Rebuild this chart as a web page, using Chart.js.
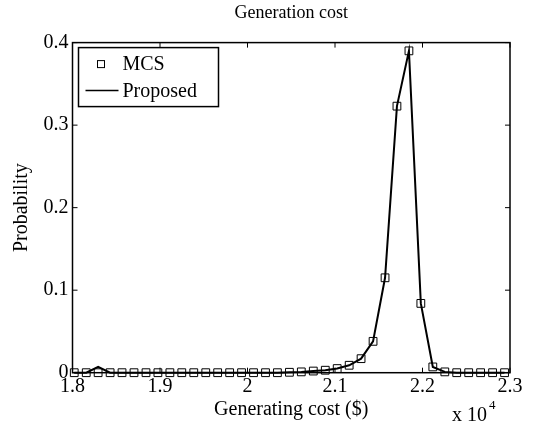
<!DOCTYPE html>
<html>
<head>
<meta charset="utf-8">
<title>Generation cost</title>
<script src="https://cdn.jsdelivr.net/npm/chart.js@4.4.1/dist/chart.umd.min.js"></script>
<style>
  html, body { margin: 0; padding: 0; background: #fff; }
  canvas { display: block; }
</style>
</head>
<body>
<canvas id="cost-chart" width="537" height="427"></canvas>
<script>
// Generating cost bins ($)
const costBins = [
  18020, 18157, 18293, 18430, 18566, 18703, 18840, 18976, 19113, 19249,
  19386, 19523, 19659, 19796, 19932, 20069, 20206, 20342, 20479, 20615,
  20752, 20889, 21025, 21162, 21298, 21435, 21572, 21708, 21845, 21981,
  22118, 22255, 22391, 22528, 22664, 22801, 22938
];

// Monte Carlo simulation probabilities
const mcsProb = [
  0, 0, 0, 0, 0, 0, 0, 0, 0, 0,
  0, 0, 0, 0, 0, 0, 0, 0, 0.0005, 0.001,
  0.002, 0.003, 0.005, 0.009, 0.017, 0.038, 0.115, 0.323, 0.39, 0.084,
  0.007, 0.001, 0, 0, 0, 0, 0
];

// Proposed method probabilities
const proposedProb = [
  0, 0, 0.007, 0, 0, 0, 0, 0, 0, 0,
  0, 0, 0, 0, 0, 0, 0, 0, 0.0005, 0.001,
  0.002, 0.003, 0.005, 0.009, 0.017, 0.038, 0.115, 0.323, 0.39, 0.084,
  0.007, 0.001, 0, 0, 0, 0, 0
];

const xTicks = [18000, 19000, 20000, 21000, 22000, 23000];
const yTicks = [0, 0.1, 0.2, 0.3, 0.4];
const seriesNames = ['MCS', 'Proposed'];

const serif = '"Liberation Serif", "Times New Roman", serif';
Chart.defaults.font.family = serif;
Chart.defaults.color = '#000';

const toPoints = (ys) => costBins.map((x, i) => ({ x: x, y: ys[i] }));

// center the title over the plot area rather than the whole canvas
const titleOverAxes = {
  id: 'titleOverAxes',
  afterLayout(chart) {
    const t = chart.titleBlock;
    if (t) {
      t.left = chart.chartArea.left;
      t.right = chart.chartArea.right;
    }
  }
};

// box around the axes with inward ticks on all four sides
const axesBox = {
  id: 'axesBox',
  afterDraw(chart) {
    const { ctx, chartArea: a, scales } = chart;
    const len = 5;
    ctx.save();
    ctx.strokeStyle = '#000';
    ctx.lineWidth = 1.5;
    ctx.strokeRect(a.left, a.top, a.right - a.left, a.bottom - a.top);
    ctx.lineWidth = 1;
    ctx.beginPath();
    xTicks.forEach(v => {
      const px = scales.x.getPixelForValue(v);
      ctx.moveTo(px, a.bottom); ctx.lineTo(px, a.bottom - len);
      ctx.moveTo(px, a.top); ctx.lineTo(px, a.top + len);
    });
    yTicks.forEach(v => {
      const py = scales.y.getPixelForValue(v);
      ctx.moveTo(a.left, py); ctx.lineTo(a.left + len, py);
      ctx.moveTo(a.right, py); ctx.lineTo(a.right - len, py);
    });
    ctx.stroke();

    // exponent note under the x axis
    ctx.fillStyle = '#000';
    ctx.textBaseline = 'alphabetic';
    ctx.textAlign = 'left';
    ctx.font = '20px ' + serif;
    ctx.fillText('x 10', 452, 421);
    ctx.font = '13px ' + serif;
    ctx.fillText('4', 489, 409);
    ctx.restore();
  }
};

// legend box in the upper left corner
const legendBox = {
  id: 'legendBox',
  afterDraw(chart) {
    const { ctx, chartArea: a } = chart;
    const x0 = a.left + 6, y0 = a.top + 5, w = 140, h = 59;
    ctx.save();
    ctx.fillStyle = '#fff';
    ctx.fillRect(x0, y0, w, h);
    ctx.strokeStyle = '#000';
    ctx.lineWidth = 1.5;
    ctx.strokeRect(x0, y0, w, h);

    ctx.lineWidth = 1;
    ctx.strokeRect(x0 + 19, y0 + 13, 7, 7);
    ctx.lineWidth = 1.5;
    ctx.beginPath();
    ctx.moveTo(x0 + 7, y0 + 43);
    ctx.lineTo(x0 + 40, y0 + 43);
    ctx.stroke();

    ctx.fillStyle = '#000';
    ctx.font = '20px ' + serif;
    ctx.textBaseline = 'middle';
    ctx.fillText(seriesNames[0], x0 + 44, y0 + 17);
    ctx.fillText(seriesNames[1], x0 + 44, y0 + 44);
    ctx.restore();
  }
};

new Chart(document.getElementById('cost-chart'), {
  type: 'scatter',
  data: {
    datasets: [
      {
        label: seriesNames[0],
        data: toPoints(mcsProb),
        showLine: false,
        pointStyle: 'rect',
        pointRadius: 5.5,
        pointBorderWidth: 1,
        pointBorderColor: '#000',
        pointBackgroundColor: 'rgba(0,0,0,0)',
        clip: false
      },
      {
        label: seriesNames[1],
        data: toPoints(proposedProb),
        showLine: true,
        borderColor: '#000',
        borderWidth: 2,
        pointRadius: 0,
        tension: 0,
        clip: false
      }
    ]
  },
  options: {
    responsive: false,
    animation: false,
    layout: { padding: { left: 0, right: 27, top: 0, bottom: 0 } },
    plugins: {
      legend: { display: false },
      tooltip: { enabled: false },
      title: {
        display: true,
        text: 'Generation cost',
        font: { size: 18, weight: 'normal' },
        padding: { top: 2, bottom: 19 }
      }
    },
    scales: {
      x: {
        type: 'linear',
        min: 18000,
        max: 23000,
        afterFit: (s) => { s.height = 54.3; },
        afterBuildTicks: (s) => { s.ticks = xTicks.map(v => ({ value: v })); },
        grid: { display: false, drawTicks: false },
        border: { display: false },
        ticks: {
          font: { size: 20 },
          padding: 2,
          maxRotation: 0,
          callback: (v) => String(+(v / 10000).toFixed(1))
        },
        title: {
          display: true,
          text: 'Generating cost ($)',
          font: { size: 20 },
          padding: { top: 0, bottom: 5 }
        }
      },
      y: {
        min: 0,
        max: 0.4,
        afterFit: (s) => { s.width = 72.5; },
        afterBuildTicks: (s) => { s.ticks = yTicks.map(v => ({ value: v })); },
        grid: { display: false, drawTicks: false },
        border: { display: false },
        ticks: {
          font: { size: 20 },
          padding: 4,
          callback: (v) => String(+v.toFixed(1))
        },
        title: {
          display: true,
          text: 'Probability',
          font: { size: 20 },
          padding: { top: 10, bottom: 0 }
        }
      }
    }
  },
  plugins: [titleOverAxes, axesBox, legendBox]
});
</script>
</body>
</html>
